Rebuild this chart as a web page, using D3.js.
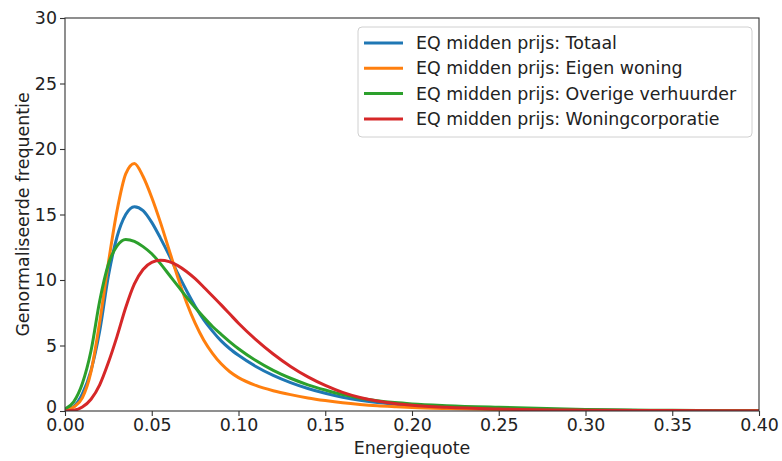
<!DOCTYPE html>
<html>
<head>
<meta charset="utf-8">
<script src="https://cdn.jsdelivr.net/npm/d3@7"></script>
<style>
  html, body { margin: 0; padding: 0; background: #fff; }
  svg { display: block; font-family: "DejaVu Sans", sans-serif; }
</style>
</head>
<body>
<svg id="chart" width="782" height="461"></svg>
<script>
// ---- Data ----
const xValues = [0, 0.005, 0.01, 0.015, 0.02, 0.025, 0.03, 0.035, 0.04, 0.045, 0.05, 0.055, 0.06, 0.065, 0.07, 0.075, 0.08, 0.085, 0.09, 0.095, 0.10, 0.11, 0.12, 0.13, 0.14, 0.15, 0.16, 0.17, 0.18, 0.19, 0.20, 0.22, 0.25, 0.30, 0.35, 0.40];

const totaal =            [0.1, 0.35, 1.3, 3.1, 6.1, 10.3, 13.3, 15.0, 15.6, 15.3, 14.4, 13.2, 11.9, 10.5, 9.2, 8.0, 6.95, 6.1, 5.35, 4.75, 4.25, 3.4, 2.72, 2.17, 1.72, 1.35, 1.05, 0.82, 0.64, 0.52, 0.42, 0.29, 0.17, 0.07, 0.03, 0.01];
const eigenWoning =       [0.05, 0.3, 1.0, 3.0, 6.8, 11.3, 15.3, 18.1, 18.9, 17.9, 16.3, 14.4, 12.3, 10.2, 8.3, 6.7, 5.4, 4.4, 3.6, 3.0, 2.55, 1.95, 1.55, 1.25, 1.0, 0.8, 0.63, 0.5, 0.4, 0.33, 0.27, 0.19, 0.11, 0.05, 0.02, 0.01];
const overigeVerhuurder = [0.15, 0.7, 2.1, 4.6, 8.4, 11.2, 12.6, 13.1, 12.95, 12.55, 12.0, 11.25, 10.4, 9.55, 8.7, 7.9, 7.15, 6.45, 5.85, 5.28, 4.75, 3.85, 3.1, 2.5, 2.0, 1.6, 1.25, 0.98, 0.78, 0.64, 0.54, 0.41, 0.28, 0.12, 0.05, 0.02];
const woningcorporatie =  [0.0, 0.05, 0.3, 0.9, 2.0, 3.7, 5.7, 7.9, 9.7, 10.8, 11.35, 11.5, 11.4, 11.1, 10.65, 10.1, 9.45, 8.78, 8.1, 7.4, 6.7, 5.45, 4.35, 3.4, 2.6, 1.95, 1.42, 1.03, 0.76, 0.57, 0.44, 0.28, 0.15, 0.06, 0.03, 0.02];

const seriesNames = [
  "EQ midden prijs: Totaal",
  "EQ midden prijs: Eigen woning",
  "EQ midden prijs: Overige verhuurder",
  "EQ midden prijs: Woningcorporatie"
];
const seriesValues = [totaal, eigenWoning, overigeVerhuurder, woningcorporatie];
const seriesColors = ["#1f77b4", "#ff7f0e", "#2ca02c", "#d62728"];

const xTicks = [0, 0.05, 0.10, 0.15, 0.20, 0.25, 0.30, 0.35, 0.40];
const yTicks = [0, 5, 10, 15, 20, 25, 30];
const xLabel = "Energiequote";
const yLabel = "Genormaliseerde frequentie";

// ---- Layout ----
const svg = d3.select("#chart");
const margin = { left: 65, right: 23, top: 18, bottom: 50 };
const W = 782, H = 461;
const plotW = W - margin.left - margin.right;
const plotH = H - margin.top - margin.bottom;

const x = d3.scaleLinear().domain([0, 0.40]).range([margin.left, margin.left + plotW]);
const y = d3.scaleLinear().domain([0, 30]).range([margin.top + plotH, margin.top]);

const fontSize = 17.4;
const axisColor = "#333";

// Axes
const xAxis = svg.append("g")
  .attr("transform", `translate(0,${margin.top + plotH})`)
  .call(d3.axisBottom(x).tickValues(xTicks).tickFormat(d3.format(".2f")).tickSizeOuter(0).tickSize(5).tickPadding(3));
const yAxis = svg.append("g")
  .attr("transform", `translate(${margin.left},0)`)
  .call(d3.axisLeft(y).tickValues(yTicks).tickFormat(d3.format("d")).tickSizeOuter(0).tickSize(5).tickPadding(3));

[xAxis, yAxis].forEach(g => {
  g.selectAll("text").attr("font-size", fontSize).attr("fill", "#222").attr("font-family", "DejaVu Sans");
  g.selectAll("line").attr("stroke", axisColor).attr("stroke-width", 1.1);
  g.select(".domain").remove();
});
// keep the "0" y label just clear of the "0.00" x label
yAxis.selectAll(".tick text").filter(d => d === 0).attr("dy", "0.1em");

// Curves
const line = d3.line()
  .x((d, i) => x(xValues[i]))
  .y(d => y(Math.max(0, d)))
  .curve(d3.curveMonotoneX);

const clipId = "plotclip";
svg.append("clipPath").attr("id", clipId).append("rect")
  .attr("x", margin.left).attr("y", margin.top - 2).attr("width", plotW).attr("height", plotH + 2);

const curves = svg.append("g").attr("clip-path", `url(#${clipId})`);
seriesValues.forEach((vals, k) => {
  curves.append("path")
    .datum(vals)
    .attr("d", line)
    .attr("fill", "none")
    .attr("stroke", seriesColors[k])
    .attr("stroke-width", 3)
    .attr("stroke-linejoin", "round")
    .attr("stroke-linecap", "round");
});

// Frame (spines)
svg.append("rect")
  .attr("x", margin.left).attr("y", margin.top)
  .attr("width", plotW).attr("height", plotH)
  .attr("fill", "none").attr("stroke", axisColor).attr("stroke-width", 1.1);

// Axis labels
svg.append("text")
  .attr("x", margin.left + plotW / 2).attr("y", 454)
  .attr("text-anchor", "middle").attr("font-size", fontSize).attr("fill", "#222")
  .text(xLabel);
svg.append("text")
  .attr("transform", `translate(29,${margin.top + plotH / 2}) rotate(-90)`)
  .attr("text-anchor", "middle").attr("font-size", fontSize).attr("fill", "#222")
  .text(yLabel);

// Legend
const legend = svg.append("g");
legend.append("rect")
  .attr("x", 358).attr("y", 27).attr("width", 394).attr("height", 110)
  .attr("rx", 4).attr("fill", "#fff").attr("fill-opacity", 0.85)
  .attr("stroke", "#d0d0d0").attr("stroke-width", 1);
seriesNames.forEach((name, k) => {
  const cy = 43 + k * 25.3;
  legend.append("line")
    .attr("x1", 364).attr("x2", 403).attr("y1", cy).attr("y2", cy)
    .attr("stroke", seriesColors[k]).attr("stroke-width", 3);
  legend.append("text")
    .attr("x", 416).attr("y", cy).attr("dy", "0.35em")
    .attr("font-size", fontSize).attr("fill", "#222")
    .text(name);
});
</script>
</body>
</html>
